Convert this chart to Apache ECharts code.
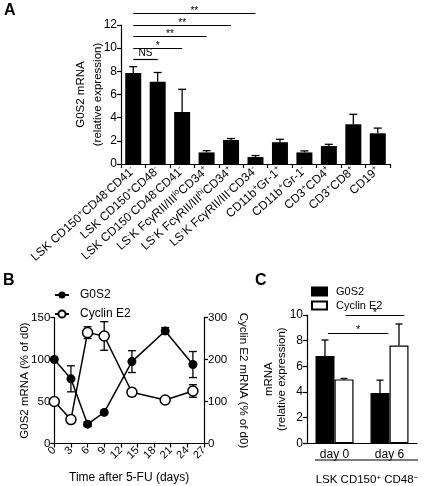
<!DOCTYPE html>
<html><head><meta charset="utf-8">
<script src="https://cdn.jsdelivr.net/npm/echarts@6/dist/echarts.min.js"></script>
<style>html,body{margin:0;padding:0;background:#fff}#c{width:430px;height:486px}</style>
</head><body><div id="c"></div>
<script>
// ---------- Panel A data ----------
const aCategories = ['LSK CD150^+CD48^-CD41^-', 'LSK CD150^+CD48^-', 'LSK CD150^-CD48^-CD41^-',
  'LS^-K FcγRII/III^{lo}CD34^+', 'LS^-K FcγRII/III^{hi}CD34^+', 'LS^-K FcγRII/III^-CD34^-',
  'CD11b^+Gr-1^+', 'CD11b^+Gr-1^-', 'CD3^+CD4^+', 'CD3^+CD8^+', 'CD19^+'];
const aMean = [7.85, 7.1, 4.5, 1.0, 2.07, 0.6, 1.88, 1.0, 1.55, 3.43, 2.65];
const aErr  = [0.55, 0.8, 1.95, 0.15, 0.13, 0.13, 0.25, 0.13, 0.15, 0.86, 0.45];
const aYTicks = [0, 2, 4, 6, 8, 10, 12];
const aSigFrom  = [0, 0, 0, 0, 0];
const aSigTo    = [1, 2, 3, 4, 5];
const aSigLevel = [9, 10, 11, 12, 13];
const aSigText  = ['NS', '*', '**', '**', '**'];

// ---------- Panel B data ----------
const bDays = [0, 3, 6, 9, 14, 20, 25];
const bG0S2 = [100, 77, 23, 37, 97.5, 134, 94];
const bG0S2Err = [0, 15.5, 2.5, 0, 13, 4, 15.5];
const bCyclin = [100, 57, 264, 256, 122, 103.5, 125];
const bCyclinErr = [0, 0, 14, 34, 9, 4, 15];
const bXTicks = [0, 3, 6, 9, 12, 15, 18, 21, 24, 27];
const bLeftTicks = [0, 50, 100, 150];
const bRightTicks = [0, 100, 200, 300];

// ---------- Panel C data ----------
const cCategories = ['day 0', 'day 6'];
const cG0S2 = [6.8, 3.92];
const cG0S2Err = [1.25, 1.0];
const cCyclin = [4.98, 7.62];
const cCyclinErr = [0.07, 1.68];
const cYTicks = [0, 2, 4, 6, 8, 10];
const cSigFrom = [-0.12, 0.2];
const cSigTo = [0.98, 1.27];
const cSigLevel = [8.6, 10];
const cSigText = ['*', '*'];

const FONT = '"Liberation Sans", Arial, sans-serif';
const K = '#000';

function supRich(str) {
  let out = '', buf = '', i = 0;
  while (i < str.length) {
    if (str[i] === '^') {
      if (buf) { out += '{n|' + buf + '}'; buf = ''; }
      let sup;
      if (str[i + 1] === '{') { const j = str.indexOf('}', i); sup = str.slice(i + 2, j); i = j + 1; }
      else { sup = str[i + 1]; i += 2; }
      out += '{s|' + sup + '}';
    } else { buf += str[i]; i++; }
  }
  if (buf) out += '{n|' + buf + '}';
  return out;
}

function errUp(offset, cap) {
  return function (params, api) {
    const x = api.value(0), m = api.value(1), e = api.value(2);
    if (!e) return null;
    const p0 = api.coord([x, m]), p1 = api.coord([x, m + e]);
    const cx = p0[0] + offset;
    const st = { stroke: K, lineWidth: 1.3 };
    return { type: 'group', children: [
      { type: 'line', shape: { x1: cx, y1: p0[1], x2: cx, y2: p1[1] }, style: st },
      { type: 'line', shape: { x1: cx - cap, y1: p1[1], x2: cx + cap, y2: p1[1] }, style: st }
    ]};
  };
}
function errBoth(params, api) {
  const x = api.value(0), m = api.value(1), e = api.value(2);
  if (!e) return null;
  const p0 = api.coord([x, m - e]), p1 = api.coord([x, m + e]);
  const cx = p0[0], cap = 4;
  const st = { stroke: K, lineWidth: 1.3 };
  return { type: 'group', children: [
    { type: 'line', shape: { x1: cx, y1: p0[1], x2: cx, y2: p1[1] }, style: st },
    { type: 'line', shape: { x1: cx - cap, y1: p1[1], x2: cx + cap, y2: p1[1] }, style: st },
    { type: 'line', shape: { x1: cx - cap, y1: p0[1], x2: cx + cap, y2: p0[1] }, style: st }
  ]};
}
function sigItems(from, to, level, text) {
  return from.map((f, k) => [
    { name: text[k], coord: [f, level[k]],
      label: { distance: text[k] === 'NS' ? 1 : -3 } },
    { coord: [to[k], level[k]] }]);
}

const axLine = { show: true, lineStyle: { color: K, width: 1.2 } };
const axTick = { show: true, length: 4, lineStyle: { color: K, width: 1.2 } };
const lbl = { color: K, fontSize: 11.5, fontFamily: FONT };
const nameTS = { color: K, fontSize: 11.5, fontFamily: FONT, lineHeight: 14 };

const chart = echarts.init(document.getElementById('c'), null, { renderer: 'canvas', width: 430, height: 486 });

const option = {
  animation: false,
  backgroundColor: '#fff',
  textStyle: { fontFamily: FONT },
  grid: [
    { left: 121, top: 25, width: 269, height: 139, outerBoundsMode: 'none', containLabel: false },
    { left: 121, top: 1.83, width: 269, height: 162.17, outerBoundsMode: 'none', containLabel: false },
    { left: 54.3, top: 317.5, width: 149.7, height: 126, outerBoundsMode: 'none', containLabel: false },
    { left: 307, top: 315, width: 110, height: 128.3, outerBoundsMode: 'none', containLabel: false },
    { left: 307, top: 315, width: 110, height: 128.3, outerBoundsMode: 'none', containLabel: false }
  ],
  xAxis: [
    { gridIndex: 0, type: 'category', data: aCategories, boundaryGap: true,
      axisLine: axLine, axisTick: axTick,
      axisLabel: { interval: 0, rotate: 42, margin: 5, formatter: v => supRich(v),
        rich: { n: { fontSize: 12, lineHeight: 14, fontFamily: FONT, color: K },
                s: { fontSize: 8, lineHeight: 8, verticalAlign: 'top', fontFamily: FONT, color: K } } } },
    { gridIndex: 1, type: 'category', data: aCategories, show: false },
    { gridIndex: 2, type: 'value', min: 0, max: 27, interval: 3,
      axisLine: axLine, axisTick: axTick, splitLine: { show: false },
      axisLabel: Object.assign({}, lbl, { rotate: 45, margin: 5, fontSize: 11 }),
      name: 'Time after 5-FU (days)', nameLocation: 'middle', nameGap: 27, nameMoveOverlap: false,
      nameTextStyle: Object.assign({}, nameTS, { fontSize: 12 }) },
    { gridIndex: 3, type: 'category', data: cCategories, boundaryGap: true,
      axisLine: axLine, axisTick: { show: false },
      axisLabel: Object.assign({}, lbl, { margin: 5, fontSize: 12 }) },
    { gridIndex: 4, type: 'value', min: -0.5, max: 1.5, show: false }
  ],
  yAxis: [
    { gridIndex: 0, type: 'value', min: 0, max: 12, interval: 2,
      axisLine: axLine, axisTick: axTick, splitLine: { show: false },
      axisLabel: Object.assign({}, lbl, { margin: 4, fontSize: 12 }),
      name: 'G0S2 mRNA\n(relative expression)', nameLocation: 'middle', nameGap: 15, nameMoveOverlap: false,
      nameTextStyle: Object.assign({}, nameTS, { lineHeight: 17 }) },
    { gridIndex: 1, type: 'value', min: 0, max: 14, show: false },
    { gridIndex: 2, type: 'value', min: 0, max: 150, interval: 50, position: 'left',
      axisLine: axLine, axisTick: axTick, splitLine: { show: false },
      axisLabel: Object.assign({}, lbl, { margin: 4 }),
      name: 'G0S2 mRNA (% of d0)', nameLocation: 'middle', nameGap: 22, nameMoveOverlap: false,
      nameTextStyle: nameTS },
    { gridIndex: 2, type: 'value', min: 0, max: 300, interval: 100, position: 'right',
      axisLine: axLine, axisTick: axTick, splitLine: { show: false },
      axisLabel: Object.assign({}, lbl, { margin: 4 }),
      name: 'Cyclin E2 mRNA (% of d0)', nameLocation: 'middle', nameGap: 32, nameRotate: -90, nameMoveOverlap: false,
      nameTextStyle: nameTS },
    { gridIndex: 3, type: 'value', min: 0, max: 10, interval: 2,
      axisLine: axLine, axisTick: axTick, splitLine: { show: false },
      axisLabel: Object.assign({}, lbl, { margin: 4, fontSize: 12 }),
      name: 'mRNA\n(relative expression)', nameLocation: 'middle', nameGap: 19, nameMoveOverlap: false,
      nameTextStyle: Object.assign({}, nameTS, { lineHeight: 13 }) },
    { gridIndex: 4, type: 'value', min: 0, max: 10, show: false }
  ],
  legend: [
    { data: ['G0S2', 'Cyclin E2'], orient: 'vertical', left: 54, top: 289, padding: 0,
      itemWidth: 14, itemHeight: 9, itemGap: 7,
      textStyle: { color: K, fontSize: 12, fontFamily: FONT, padding: [0, 0, 0, 6] } },
    { data: ['C: G0S2', 'C: Cyclin E2'], orient: 'vertical', left: 311, top: 286, padding: 0,
      icon: 'rect', itemWidth: 15, itemHeight: 8, itemGap: 3,
      formatter: n => n.replace('C: ', ''),
      textStyle: { color: K, fontSize: 11, fontFamily: FONT, padding: [0, 0, 0, 4] } }
  ],
  series: [
    // ---- A ----
    { type: 'bar', xAxisIndex: 0, yAxisIndex: 0, data: aMean, barWidth: 16,
      itemStyle: { color: K } },
    { type: 'custom', xAxisIndex: 0, yAxisIndex: 0, renderItem: errUp(0, 4), z: 3,
      data: aMean.map((m, i) => [i, m, aErr[i]]), encode: { x: 0, y: 1 } },
    { type: 'line', xAxisIndex: 1, yAxisIndex: 1, data: [], silent: true,
      markLine: { symbol: ['none', 'none'], silent: true,
        lineStyle: { color: K, width: 1.2, type: 'solid' },
        label: { show: true, position: 'insideMiddleTop', distance: 1, formatter: '{b}',
          color: K, fontSize: 10, fontFamily: FONT },
        data: sigItems(aSigFrom, aSigTo, aSigLevel, aSigText) } },
    // ---- B ----
    { type: 'custom', xAxisIndex: 2, yAxisIndex: 2, renderItem: errBoth,
      data: bDays.map((d, i) => [d, bG0S2[i], bG0S2Err[i]]), encode: { x: 0, y: 1 } },
    { type: 'custom', xAxisIndex: 2, yAxisIndex: 3, renderItem: errBoth,
      data: bDays.map((d, i) => [d, bCyclin[i], bCyclinErr[i]]), encode: { x: 0, y: 1 } },
    { name: 'G0S2', type: 'line', xAxisIndex: 2, yAxisIndex: 2,
      data: bDays.map((d, i) => [d, bG0S2[i]]),
      symbol: 'circle', symbolSize: 9, itemStyle: { color: K },
      lineStyle: { color: K, width: 1.5 } },
    { name: 'Cyclin E2', type: 'line', xAxisIndex: 2, yAxisIndex: 3,
      data: bDays.map((d, i) => [d, bCyclin[i]]),
      symbol: 'circle', symbolSize: 10, itemStyle: { color: '#fff', borderColor: K, borderWidth: 1.5 },
      lineStyle: { color: K, width: 1.5 } },
    // ---- C ----
    { name: 'C: G0S2', type: 'bar', xAxisIndex: 3, yAxisIndex: 4, data: cG0S2,
      barWidth: 19, barGap: '0%', itemStyle: { color: K, borderColor: K, borderWidth: 1.2 } },
    { name: 'C: Cyclin E2', type: 'bar', xAxisIndex: 3, yAxisIndex: 4, data: cCyclin,
      barWidth: 19, barGap: '0%', itemStyle: { color: '#fff', borderColor: K, borderWidth: 1.2 } },
    { type: 'custom', xAxisIndex: 3, yAxisIndex: 4, renderItem: errUp(-9.5, 3.5), z: 3,
      data: cG0S2.map((m, i) => [i, m, cG0S2Err[i]]), encode: { x: 0, y: 1 } },
    { type: 'custom', xAxisIndex: 3, yAxisIndex: 4, renderItem: errUp(9.5, 3.5), z: 3,
      data: cCyclin.map((m, i) => [i, m, cCyclinErr[i]]), encode: { x: 0, y: 1 } },
    { type: 'line', xAxisIndex: 4, yAxisIndex: 5, data: [], silent: true,
      markLine: { symbol: ['none', 'none'], silent: true,
        lineStyle: { color: K, width: 1.2, type: 'solid' },
        label: { show: true, position: 'insideMiddleTop', distance: 1, formatter: '{b}',
          color: K, fontSize: 11, fontFamily: FONT },
        data: sigItems(cSigFrom, cSigTo, cSigLevel, cSigText) } }
  ],
  graphic: [
    { type: 'text', left: 4, top: 3, style: { text: 'A', font: 'bold 16px ' + FONT, fill: K } },
    { type: 'text', left: 3, top: 273, style: { text: 'B', font: 'bold 16px ' + FONT, fill: K } },
    { type: 'text', left: 255, top: 273, style: { text: 'C', font: 'bold 16px ' + FONT, fill: K } },
    { type: 'line', shape: { x1: 315, y1: 460, x2: 418, y2: 460 }, style: { stroke: K, lineWidth: 1.2 } },
    { type: 'text', x: 367, y: 480, style: {
        text: '{n|LSK CD150}{s|+}{n| CD48}{s|−}', align: 'center', verticalAlign: 'middle',
        rich: { n: { fontSize: 11.5, lineHeight: 13, fontFamily: FONT, fill: K },
                s: { fontSize: 8, lineHeight: 9, verticalAlign: 'top', fontFamily: FONT, fill: K } } } }
  ]
};
chart.setOption(option);
</script>
</body></html>
